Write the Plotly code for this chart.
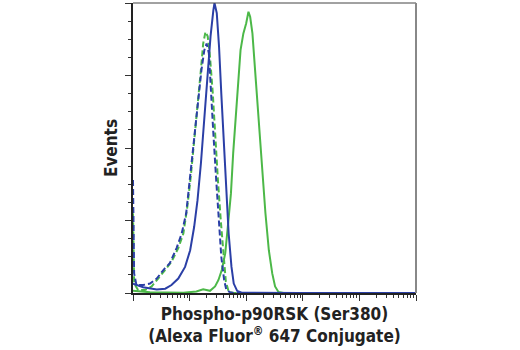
import plotly.graph_objects as go

# Flow cytometry histograms: fluorescence intensity (log decades) vs. events
blue_solid_x = [0.00, 0.18, 0.42, 0.57, 0.68, 0.80, 0.92, 1.01, 1.08, 1.14, 1.20, 1.25, 1.31, 1.37,
                1.42, 1.44, 1.48, 1.52, 1.56, 1.60, 1.64, 1.69, 1.74, 1.78, 1.84, 1.92, 2.95, 5.00]
blue_solid_y = [13, 8, 5, 6, 11, 20, 36, 59, 91, 128, 179, 234, 294, 354,
                390, 400, 386, 340, 275, 211, 147, 82, 36, 13, 3, 0.5, 0, 0]

blue_dash_x = [0.00, 0.02, 0.06, 0.18, 0.30, 0.42, 0.54, 0.65, 0.77, 0.86, 0.94, 0.98, 1.04, 1.10,
               1.15, 1.21, 1.26, 1.30, 1.34, 1.37, 1.42, 1.47, 1.51, 1.56, 1.61, 1.65, 1.73, 1.89, 5.00]
blue_dash_y = [156, 27, 11, 11, 13, 20, 32, 41, 62, 82, 110, 140, 188, 229,
               266, 308, 335, 344, 331, 285, 220, 156, 101, 50, 18, 4, 0.5, 0, 0]

green_dash_x = [0.00, 0.02, 0.09, 0.21, 0.33, 0.45, 0.57, 0.68, 0.80, 0.89, 0.96, 1.02, 1.08, 1.14,
                1.20, 1.24, 1.28, 1.32, 1.36, 1.41, 1.45, 1.50, 1.55, 1.60, 1.64, 1.69, 1.77, 5.00]
green_dash_y = [110, 13, 4, 4, 9, 20, 32, 43, 62, 82, 119, 160, 206, 257,
                308, 344, 360, 354, 326, 275, 216, 156, 101, 50, 16, 2, 0, 0]

green_solid_x = [0.00, 0.30, 0.89, 1.12, 1.24, 1.36, 1.45, 1.51, 1.57, 1.63, 1.67, 1.73, 1.77, 1.82,
                 1.86, 1.90, 1.95, 2.00, 2.04, 2.07, 2.11, 2.14, 2.18, 2.23, 2.29, 2.34, 2.40, 2.46,
                 2.51, 2.57, 2.66, 5.00]
green_solid_y = [3, 1, 0.5, 2, 5, 3, 9, 18, 32, 55, 87, 137, 193, 248,
                 298, 335, 358, 372, 388, 381, 358, 326, 275, 220, 165, 110, 59, 27,
                 9, 1.5, 0, 0]

BLUE = "#2b3fa6"
GREEN = "#4cb848"

fig = go.Figure()
fig.add_trace(go.Scatter(x=green_solid_x, y=green_solid_y, mode="lines",
                         line=dict(color=GREEN, width=2)))
fig.add_trace(go.Scatter(x=green_dash_x, y=green_dash_y, mode="lines",
                         line=dict(color=GREEN, width=2, dash="6px,3px")))
fig.add_trace(go.Scatter(x=blue_dash_x, y=blue_dash_y, mode="lines",
                         line=dict(color=BLUE, width=2, dash="6px,3px")))
fig.add_trace(go.Scatter(x=blue_solid_x, y=blue_solid_y, mode="lines",
                         line=dict(color=BLUE, width=2)))

# minor ticks at 2..9 within each decade
minor_x = []
for d in range(5):
    for k in [0.301, 0.477, 0.602, 0.699, 0.778, 0.845, 0.903, 0.954]:
        minor_x.append(d + k)

font = "DejaVu Sans Condensed, sans-serif"

fig.update_layout(
    width=520, height=350,
    margin=dict(l=133, r=104, t=3, b=57),
    paper_bgcolor="white", plot_bgcolor="white",
    showlegend=False,
    xaxis=dict(range=[0, 5], tickmode="array", tickvals=[0, 1, 2, 3, 4, 5],
               ticks="outside", ticklen=6, tickwidth=1, tickcolor="#333",
               showticklabels=False, showgrid=False, zeroline=False,
               showline=True, linecolor="#222", linewidth=1.5,
               minor=dict(tickmode="array", tickvals=minor_x, ticks="outside",
                          ticklen=3, tickwidth=1, tickcolor="#333"),
               title=dict(text="<b>Phospho-p90RSK (Ser380)<br>(Alexa Fluor<sup>®</sup> 647 Conjugate)</b>",
                          font=dict(family=font, size=17, color="#222"), standoff=8)),
    yaxis=dict(range=[0, 400], tickmode="linear", tick0=0, dtick=100,
               ticks="outside", ticklen=6, tickwidth=1, tickcolor="#333",
               showticklabels=False, showgrid=False, zeroline=False,
               showline=True, linecolor="#222", linewidth=1.5,
               minor=dict(tickmode="linear", dtick=25, ticks="outside",
                          ticklen=3, tickwidth=1, tickcolor="#333"),
               title=dict(text="<b>Events</b>",
                          font=dict(family=font, size=17, color="#222"), standoff=3)),
)

# frame on the top and right edges
fig.add_shape(type="line", xref="paper", yref="paper", x0=0, x1=1, y0=1, y1=1,
              line=dict(color="#444", width=1))
fig.add_shape(type="line", xref="paper", yref="paper", x0=1, x1=1, y0=0, y1=1,
              line=dict(color="#888", width=2))

fig.write_html("out.html")
